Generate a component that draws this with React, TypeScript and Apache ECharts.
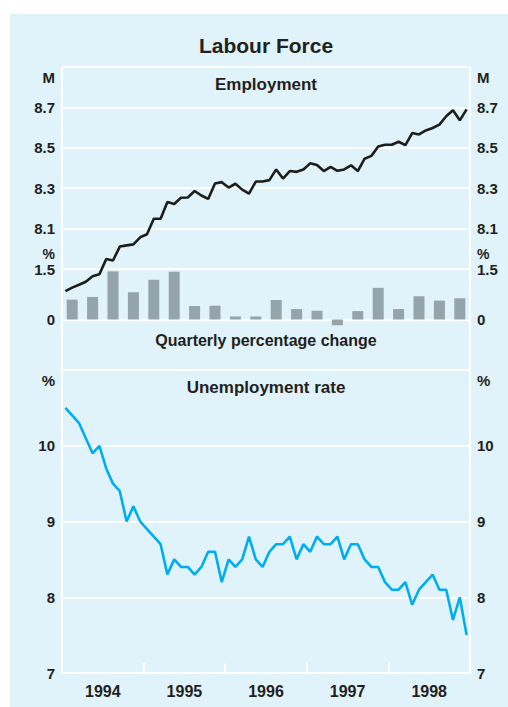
import React, { useEffect, useRef } from 'react';
import * as echarts from 'echarts';

const years = ['1994', '1995', '1996', '1997', '1998'];

// Employment, millions, monthly Jan 1994 - Dec 1998
const employment = [
  7.79, 7.808, 7.822, 7.837, 7.864, 7.874, 7.949, 7.942, 8.011, 8.017, 8.022, 8.057,
  8.072, 8.149, 8.149, 8.232, 8.222, 8.253, 8.254, 8.286, 8.264, 8.247, 8.323, 8.33,
  8.303, 8.322, 8.293, 8.273, 8.333, 8.333, 8.34, 8.393, 8.348, 8.385, 8.381, 8.393,
  8.423, 8.415, 8.385, 8.406, 8.386, 8.393, 8.413, 8.385, 8.446, 8.46, 8.506, 8.515,
  8.515, 8.53, 8.513, 8.573, 8.566, 8.586, 8.598, 8.615, 8.656, 8.686, 8.636, 8.69,
];

// Quarterly percentage change in employment, Q1 1994 - Q4 1998
const quarterlyChange = [
  0.59, 0.67, 1.43, 0.81, 1.18, 1.42, 0.4, 0.41, 0.09, 0.09,
  0.58, 0.31, 0.26, -0.17, 0.25, 0.94, 0.31, 0.69, 0.56, 0.63,
];

// Unemployment rate, per cent, monthly Jan 1994 - Dec 1998
const unemployment = [
  10.5, 10.4, 10.3, 10.1, 9.9, 10.0, 9.7, 9.5, 9.4, 9.0, 9.2, 9.0,
  8.9, 8.8, 8.7, 8.3, 8.5, 8.4, 8.4, 8.3, 8.4, 8.6, 8.6, 8.2,
  8.5, 8.4, 8.5, 8.8, 8.5, 8.4, 8.6, 8.7, 8.7, 8.8, 8.5, 8.7,
  8.6, 8.8, 8.7, 8.7, 8.8, 8.5, 8.7, 8.7, 8.5, 8.4, 8.4, 8.2,
  8.1, 8.1, 8.2, 7.9, 8.1, 8.2, 8.3, 8.1, 8.1, 7.7, 8.0, 7.5,
];

const employmentTicks = [8.1, 8.3, 8.5, 8.7];
const changeTicks = [0, 1.5];
const unemploymentTicks = [7, 8, 9, 10];

const FONT = '"Liberation Sans", Arial, Helvetica, sans-serif';
const TEXT = '#231f20';
const BG = '#e0f2fa';
const WHITE = '#ffffff';
const LEFT = 62;
const PLOT_W = 408;
const TOP1 = 67;
const H = 303;
const TOP2 = TOP1 + H;
const CX = LEFT + PLOT_W / 2;

const near = (a: number, b: number) => Math.abs(a - b) < 1e-6;

function splitColors(min: number, max: number, interval: number, marks: number[]) {
  const n = Math.round((max - min) / interval) + 1;
  const out: string[] = [];
  for (let i = 0; i < n; i++) {
    const v = min + i * interval;
    out.push(marks.some((m) => near(m, v)) ? WHITE : 'rgba(0,0,0,0)');
  }
  return out;
}

const labelStyle = {
  fontFamily: FONT,
  fontWeight: 'bold' as const,
  fontSize: 15,
  color: TEXT,
  margin: 7,
};

function yAx(gridIndex: number, position: 'left' | 'right', min: number, max: number, interval: number, ticks: number[], showSplit: boolean) {
  return {
    type: 'value',
    gridIndex,
    position,
    min,
    max,
    interval,
    axisLine: { show: false, onZero: false },
    axisTick: { show: false },
    axisLabel: {
      ...labelStyle,
      formatter: (v: number) => (ticks.some((t) => near(t, v)) ? String(ticks.find((t) => near(t, v))) : ''),
    },
    splitLine: showSplit
      ? { show: true, lineStyle: { color: splitColors(min, max, interval, ticks), width: 2 } }
      : { show: false },
  };
}

function text(x: number, y: number, str: string, size: number, align: string) {
  return {
    type: 'text',
    x,
    y,
    z: 10,
    style: {
      text: str,
      fill: TEXT,
      font: `bold ${size}px ${FONT}`,
      align,
      verticalAlign: 'middle',
    },
  };
}

export default function App() {
  const ref = useRef<HTMLDivElement>(null);

  useEffect(() => {
    if (!ref.current) return;
    const chart = echarts.init(ref.current, undefined, { renderer: 'svg' });
    chart.setOption({
      animation: false,
      backgroundColor: 'transparent',
      textStyle: { fontFamily: FONT },
      grid: [
        { left: LEFT, top: TOP1, width: PLOT_W, height: H, show: true, borderColor: WHITE, borderWidth: 2, backgroundColor: 'transparent' },
        { left: LEFT, top: TOP2, width: PLOT_W, height: H, show: true, borderColor: WHITE, borderWidth: 2, backgroundColor: 'transparent' },
      ],
      xAxis: [
        { type: 'value', gridIndex: 0, min: 0, max: 60, show: false, axisLine: { onZero: false } },
        {
          type: 'value', gridIndex: 1, min: 0, max: 60, interval: 12, position: 'bottom',
          axisLine: { show: false, onZero: false },
          axisTick: { show: true, inside: true, length: 10, lineStyle: { color: WHITE, width: 2 } },
          axisLabel: { show: false },
          splitLine: { show: false },
        },
        {
          type: 'category', gridIndex: 1, data: years, boundaryGap: true, position: 'bottom',
          axisLine: { show: false, onZero: false },
          axisTick: { show: false },
          axisLabel: { ...labelStyle, fontSize: 16, margin: 10 },
          splitLine: { show: false },
        },
      ],
      yAxis: [
        yAx(0, 'left', 7.4, 8.9, 0.1, employmentTicks, true),
        yAx(0, 'right', 7.4, 8.9, 0.1, employmentTicks, false),
        yAx(0, 'left', -1.5, 7.5, 1.5, changeTicks, true),
        yAx(0, 'right', -1.5, 7.5, 1.5, changeTicks, false),
        yAx(1, 'left', 7, 11, 1, unemploymentTicks, true),
        yAx(1, 'right', 7, 11, 1, unemploymentTicks, false),
      ],
      series: [
        {
          type: 'bar',
          xAxisIndex: 0,
          yAxisIndex: 2,
          data: quarterlyChange.map((v, q) => [q * 3 + 1.5, v]),
          barWidth: 11,
          itemStyle: { color: '#95a3aa' },
          silent: true,
        },
        {
          type: 'line',
          xAxisIndex: 0,
          yAxisIndex: 0,
          data: employment.map((v, i) => [i + 0.5, v]),
          showSymbol: false,
          lineStyle: { color: '#1d1d1b', width: 2.6 },
          silent: true,
        },
        {
          type: 'line',
          xAxisIndex: 1,
          yAxisIndex: 4,
          data: unemployment.map((v, i) => [i + 0.5, v]),
          showSymbol: false,
          lineStyle: { color: '#00aeef', width: 2.6 },
          silent: true,
        },
      ],
      graphic: [
        { type: 'rect', z: -10, shape: { x: 10, y: 14, width: 498, height: 693 }, style: { fill: BG } },
        text(CX, 45, 'Labour Force', 21, 'center'),
        text(CX, 84, 'Employment', 17, 'center'),
        text(CX, 340, 'Quarterly percentage change', 16, 'center'),
        text(CX, 387, 'Unemployment rate', 17, 'center'),
        text(55, 77, 'M', 15, 'right'),
        text(477, 77, 'M', 15, 'left'),
        text(55, 254, '%', 14, 'right'),
        text(477, 254, '%', 14, 'left'),
        text(55, 380, '%', 15, 'right'),
        text(477, 380, '%', 15, 'left'),
      ],
    });
    return () => chart.dispose();
  }, []);

  return (
    <div style={{ position: 'fixed', left: 0, top: 0, width: 508, height: 707, background: '#ffffff' }}>
      <div ref={ref} style={{ width: 508, height: 707 }} />
    </div>
  );
}
